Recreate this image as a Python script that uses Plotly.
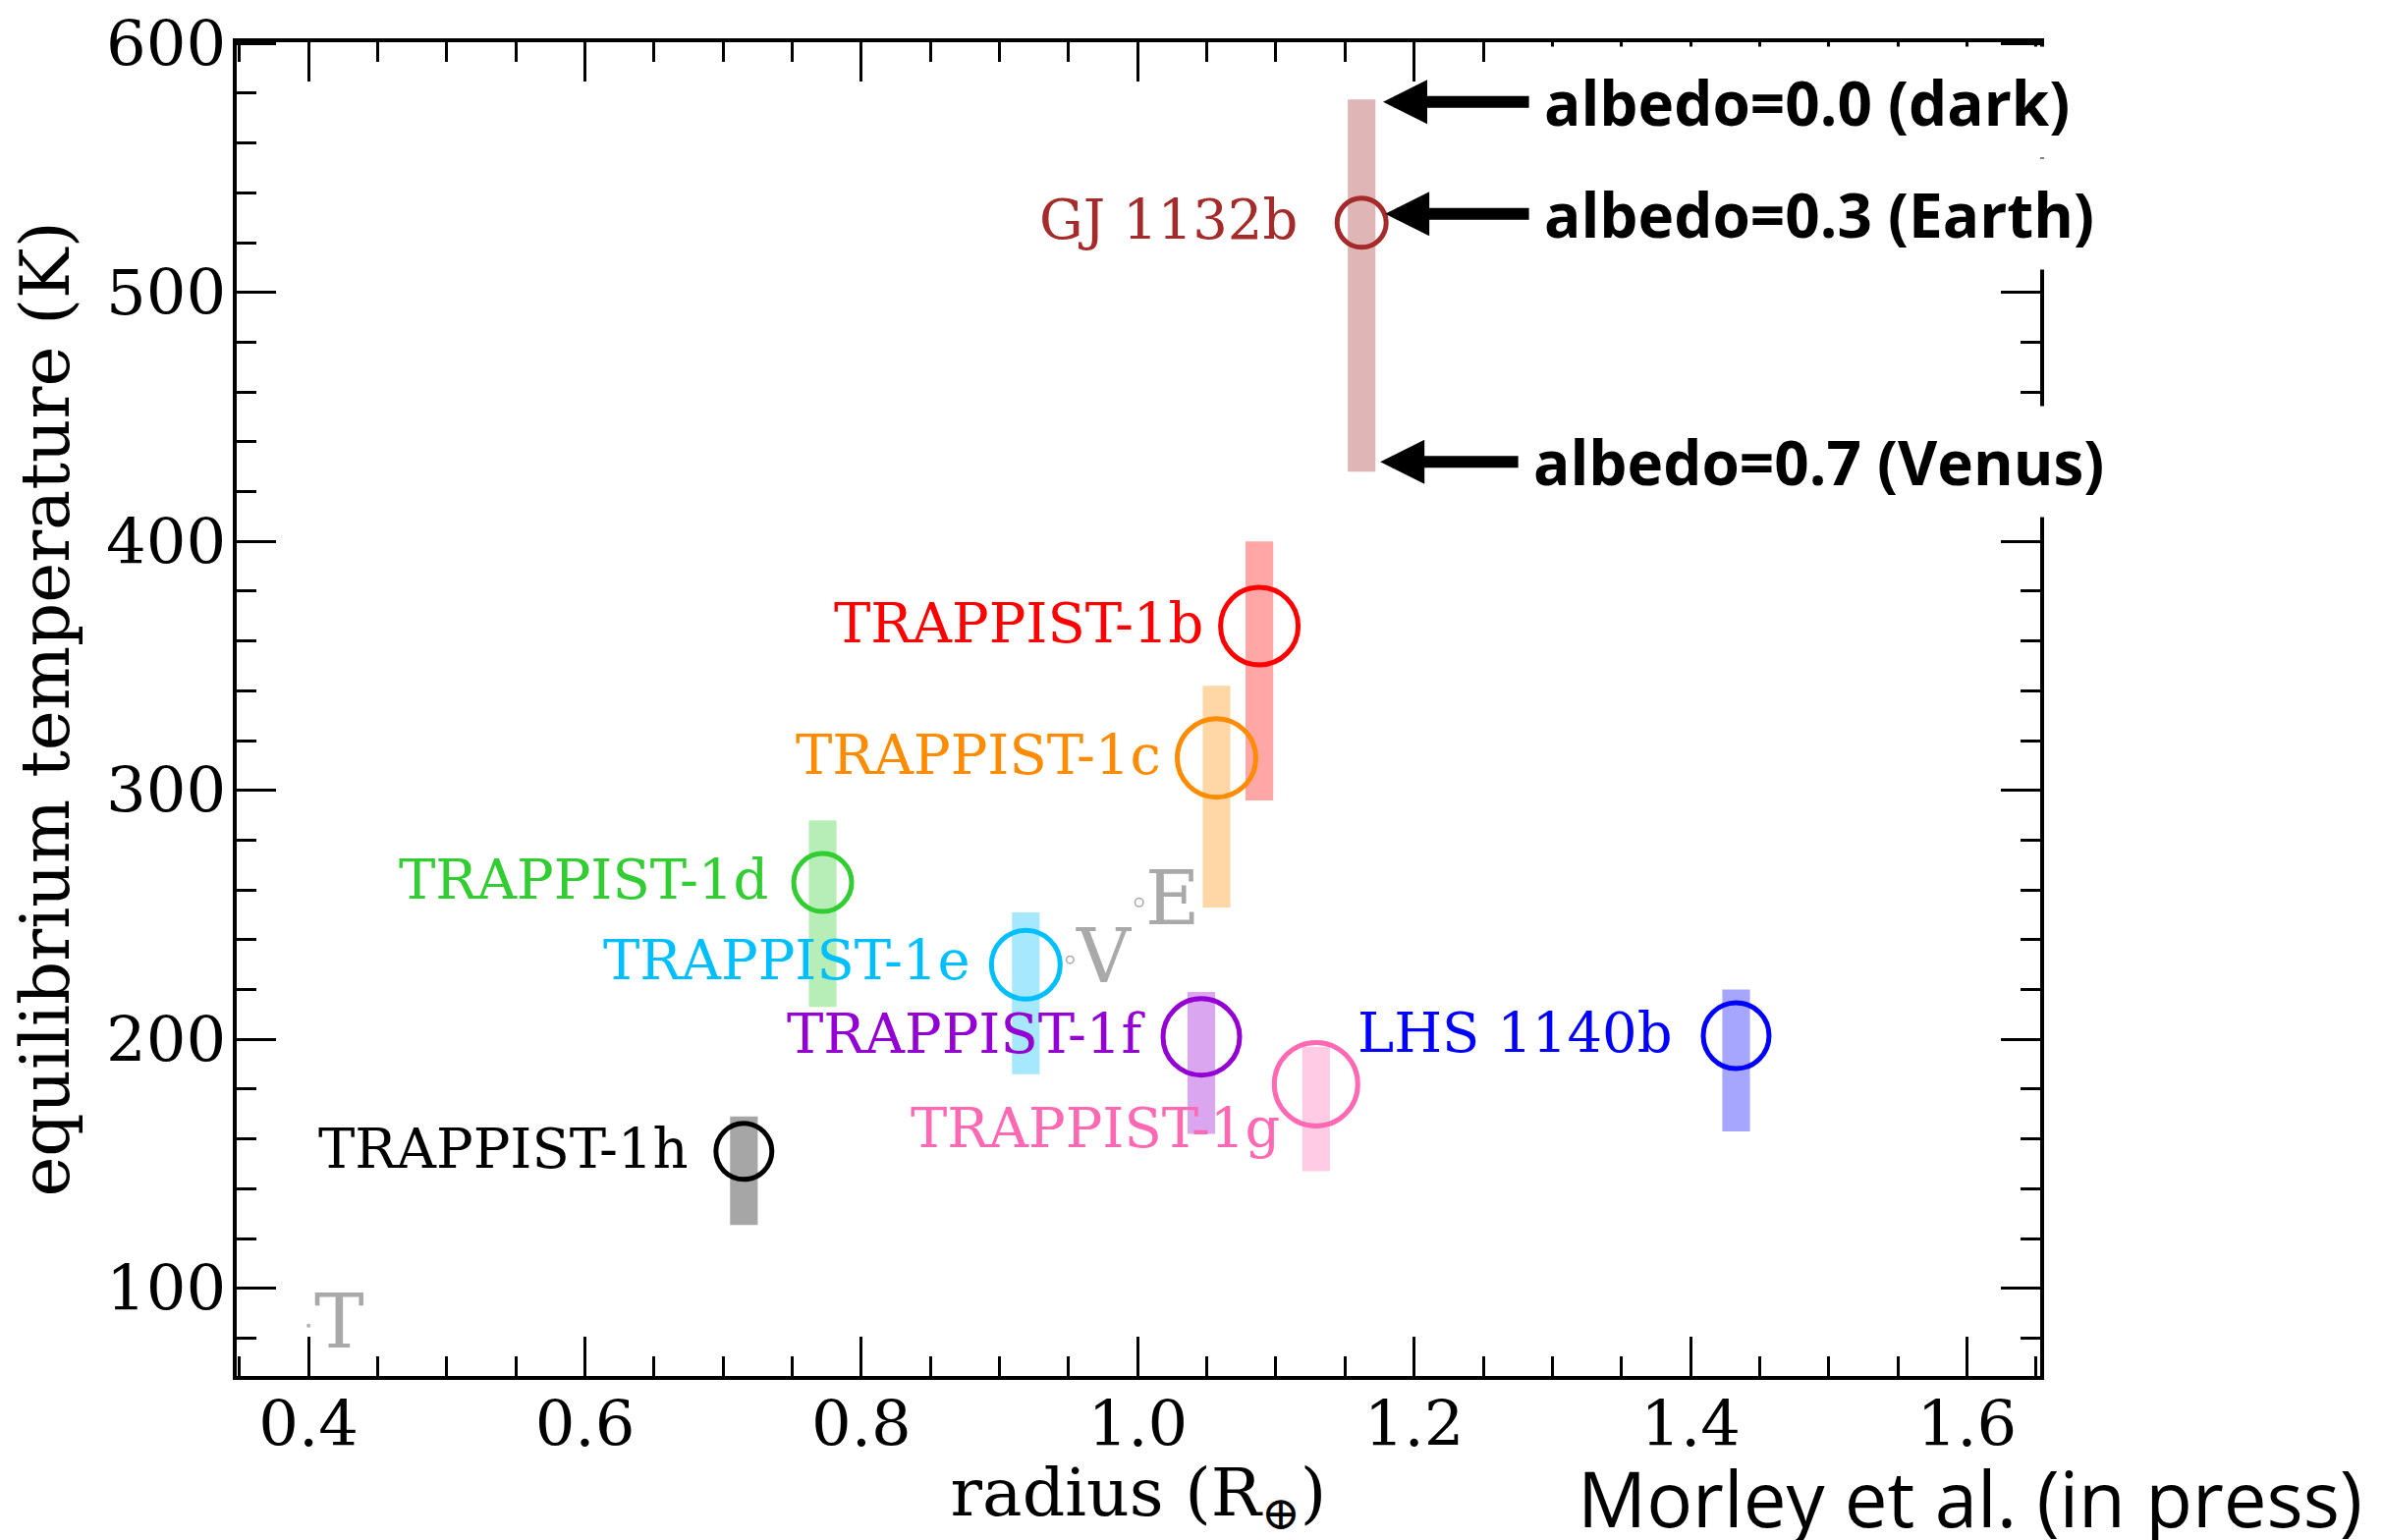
import plotly.graph_objects as go

# ---------------- data ----------------
planets = ["TRAPPIST-1b", "TRAPPIST-1c", "TRAPPIST-1d", "TRAPPIST-1e", "TRAPPIST-1f",
           "TRAPPIST-1g", "TRAPPIST-1h", "LHS 1140b", "GJ 1132b"]
radius = [1.088, 1.057, 0.772, 0.919, 1.046, 1.129, 0.715, 1.433, 1.162]
teq_albedo03 = [366, 313, 263, 230, 201, 182, 155, 201.5, 528]
teq_albedo00 = [400, 342, 288, 251, 219, 197, 169, 220, 577.5]
teq_albedo07 = [296, 253, 213, 186, 162, 147, 125.5, 163, 428]

solar_names = ["T", "V", "E"]
solar_radius = [0.400, 0.951, 1.001]
solar_teq = [85, 232, 255]

albedo_labels = ["albedo=0.0 (dark)", "albedo=0.3 (Earth)", "albedo=0.7 (Venus)"]
albedo_teq = [576.5, 531.6, 432.0]

x_tick_step = 0.2
y_tick_step = 100

# ---------------- styles ----------------
planet_colors = ["red", "darkorange", "limegreen", "deepskyblue", "darkviolet",
                 "hotpink", "black", "blue", "brown"]
rgb = {"red": (255, 0, 0), "darkorange": (255, 140, 0), "limegreen": (50, 205, 50),
       "deepskyblue": (0, 191, 255), "darkviolet": (148, 0, 211), "hotpink": (255, 105, 180),
       "black": (0, 0, 0), "blue": (0, 0, 255), "brown": (165, 42, 42)}
bar_colors = ["rgba(%d,%d,%d,0.35)" % rgb[c] for c in planet_colors]
circle_outer_px = [84, 85, 64, 75, 83, 90, 62, 72, 55]
circle_lw = 5
label_dx = [-55, -54, -54, -54, -55, -35, -54, -62, -63]
label_dy = [3, 3, 3, 5, 3, -45, 3, 3, 3]

solar_outer_px = [4, 9, 10]
gray = "#a9a9a9"

serif = "DejaVu Serif"
sans = "Open Sans"

fig = go.Figure()

# albedo range bars
fig.add_trace(go.Bar(
    x=radius,
    base=teq_albedo07,
    y=[hi - lo for hi, lo in zip(teq_albedo00, teq_albedo07)],
    width=0.02,
    marker=dict(color=bar_colors, line=dict(width=0)),
    showlegend=False, hoverinfo="skip",
))

# planets (albedo 0.3)
fig.add_trace(go.Scatter(
    x=radius, y=teq_albedo03, mode="markers",
    marker=dict(symbol="circle-open", size=[d - circle_lw for d in circle_outer_px],
                opacity=1, color=planet_colors,
                line=dict(width=circle_lw, color=planet_colors)),
    showlegend=False, hoverinfo="skip",
))

# solar-system bodies
fig.add_trace(go.Scatter(
    x=solar_radius, y=solar_teq, mode="markers",
    marker=dict(symbol="circle-open", size=[d - 1.5 for d in solar_outer_px],
                opacity=1, color=gray, line=dict(width=1.5, color=gray)),
    showlegend=False, hoverinfo="skip",
))

annotations = []
for name, x, y, c, dx, dy in zip(planets, radius, teq_albedo03, planet_colors, label_dx, label_dy):
    annotations.append(dict(
        x=x, y=y, xref="x", yref="y", text=name, showarrow=False,
        xanchor="right", yanchor="middle", xshift=dx, yshift=dy,
        font=dict(family=serif, size=56, color=c),
    ))

for name, x, y in zip(solar_names, solar_radius, solar_teq):
    annotations.append(dict(
        x=x, y=y, xref="x", yref="y", text=name, showarrow=False,
        xanchor="left", yanchor="middle", xshift=4, yshift=4,
        font=dict(family=serif, size=76, color=gray),
    ))

# albedo labels with arrows (box's left edge sits at the arrow tail)
arrow_head_x = [1.1775, 1.179, 1.1755]
albedo_box_x = [1.2831, 1.2831, 1.2753]
for lab, y, hx, bx in zip(albedo_labels, albedo_teq, arrow_head_x, albedo_box_x):
    annotations.append(dict(
        x=hx, y=y, xref="x", yref="y", ax=bx, ay=y, axref="x", ayref="y",
        text="<b>%s</b>" % lab, showarrow=True, arrowhead=2, arrowwidth=12,
        arrowsize=0.75, arrowcolor="black", standoff=0,
        xanchor="left", yanchor="middle", bgcolor="white", borderpad=14,
        font=dict(family=sans, size=62, color="black"),
    ))

annotations.append(dict(
    x=1.1795, y=-0.0913, xref="paper", yref="paper", text="Morley et al. (in press)",
    showarrow=False, xanchor="right", yanchor="middle",
    font=dict(family=sans, size=78, color="black"),
))

axis_common = dict(
    showline=True, linewidth=4, linecolor="black", mirror="allticks",
    ticks="inside", ticklen=40, tickwidth=3, tickcolor="black",
    showgrid=False, zeroline=False,
    tickfont=dict(family=serif, size=64, color="black"),
)

fig.update_layout(
    template="none",
    width=2425, height=1568,
    margin=dict(l=241, r=348, t=43, b=167),
    paper_bgcolor="white", plot_bgcolor="white",
    barmode="overlay",
    showlegend=False,
    xaxis=dict(
        range=[0.348, 1.653], tick0=0.4, dtick=x_tick_step, tickformat=".1f",
        minor=dict(dtick=0.05, ticks="inside", ticklen=20, tickwidth=3, tickcolor="black"),
        title=dict(text="radius (R<sub>⊕</sub>)", font=dict(family=serif, size=68, color="black"),
                   standoff=16),
        ticklabelstandoff=-10,
        automargin=False,
        **axis_common,
    ),
    yaxis=dict(
        range=[64.8, 600.5], tick0=0, dtick=y_tick_step,
        minor=dict(dtick=20, ticks="inside", ticklen=20, tickwidth=3, tickcolor="black"),
        title=dict(text="equilibrium temperature (K)", font=dict(family=serif, size=69, color="black"),
                   standoff=16),
        ticklabelstandoff=-6,
        automargin=False,
        **axis_common,
    ),
    annotations=annotations,
)

fig.write_html("out.html")
